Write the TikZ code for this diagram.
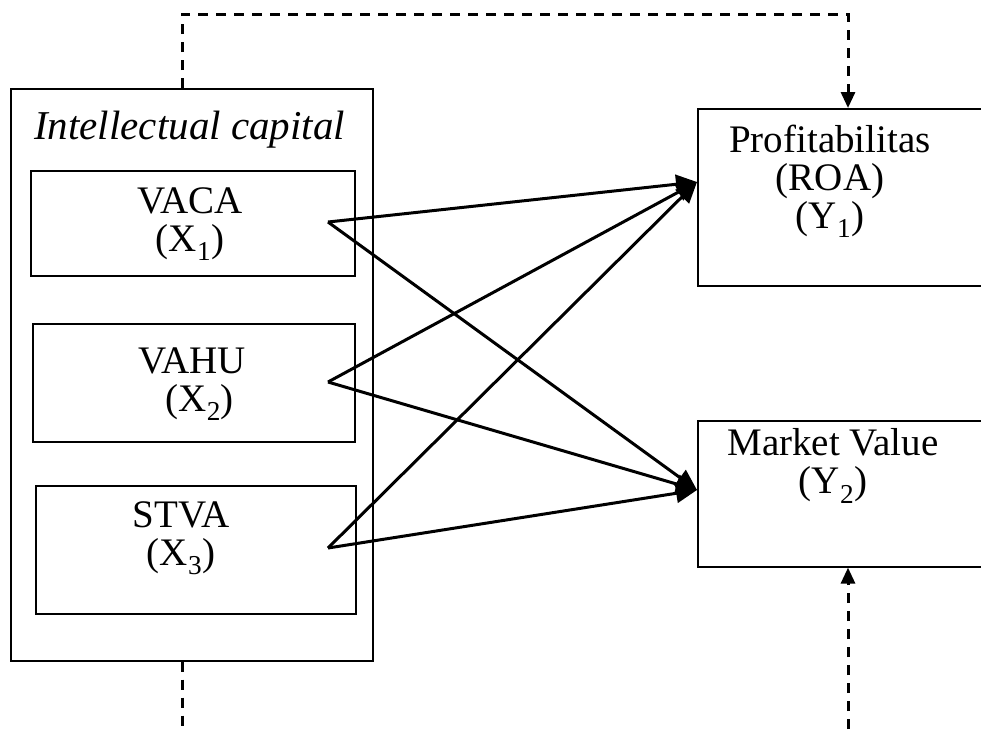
\documentclass[tikz,border=0pt]{standalone}
\usepackage{fontspec}
\setmainfont{Liberation Serif}
\usetikzlibrary{arrows.meta,positioning}
\begin{document}
\begin{tikzpicture}
[x=1pt,y=-1pt,%
  boxDecorate/.style={draw,line width=1.6pt,inner sep=0pt,anchor=north west},
  textDecorate/.style={align=center,inner sep=0pt,font=\fontsize{39}{38}\selectfont},
  lineDecorate/.style={line width=3pt,-{Triangle[length=21pt,width=19pt]}},
  dashDecorate/.style={line width=3pt,dash pattern=on 10pt off 8pt}]
\useasboundingbox (0,0) rectangle (981,729);
%% boxes
\node (ic) at (10,88) [boxDecorate,minimum width=362pt,minimum height=572pt] {};
\foreach \nodename/\x/\y/\w/\h in {
  vaca/30/170/324/105, vahu/32/323/322/118, stva/35/485/320/128,
  roa/697/108/300/177, mv/697/420/300/146}
{
  \node (\nodename) at (\x,\y) [boxDecorate,minimum width=\w pt,minimum height=\h pt] {};
}
%% texts
\node (ictext) at (34,130) [textDecorate,anchor=west,font=\fontsize{41}{42}\selectfont\itshape] {Intellectual capital};
\node (vacatext) at (190,224) [textDecorate] {VACA\\(X\textsubscript{1})};
\node (vahutext) at (192,384) [textDecorate] {VAHU\\\hspace*{0.4em}(X\textsubscript{2})};
\node (stvatext) at (181,538) [textDecorate] {STVA\\(X\textsubscript{3})};
\node (roatext) at (830,181) [textDecorate] {Profitabilitas\\(ROA)\\(Y\textsubscript{1})};
\node (mvtext) at (833,466) [textDecorate] {Market Value\\(Y\textsubscript{2})};
%% end points
\foreach \pointname/\x/\y in {
  vacaout/328/222, vahuout/328/382, stvaout/328/548,
  roain/697/182, mvin/697/490, tl/182/14, tr/848/14, bl/182/729, br/848/729}
{
  \coordinate (\pointname) at (\x,\y);
}
%% arrows
\path
\foreach \startnode in {vacaout, vahuout, stvaout}
{
  (\startnode) edge[lineDecorate] (roain)
  (\startnode) edge[lineDecorate] (mvin)
};
\draw[dashDecorate,-{Triangle[length=16pt,width=14pt]}] (tl |- ic.north) -- (tl) -- (tr) -- (tr |- roa.north);
\draw[dashDecorate] (tl |- ic.south) -- (bl);
\draw[dashDecorate,-{Triangle[length=16pt,width=14pt]}] (br) -- (tr |- mv.south);
\end{tikzpicture}
\end{document}
